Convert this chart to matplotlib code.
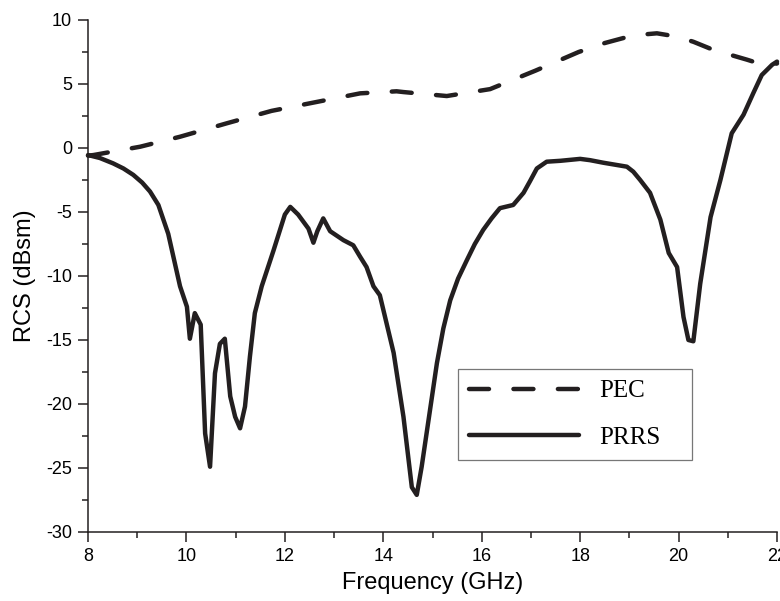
import matplotlib
matplotlib.use("Agg")
import matplotlib.pyplot as plt
from matplotlib.ticker import MultipleLocator

# PEC reference (dashed)
pec_freq = [8.0, 8.11, 9.06, 9.87, 10.82, 11.73, 12.61, 13.53, 14.27, 14.41, 15.29,
            16.17, 17.09, 17.97, 18.5, 19.08, 19.56, 19.97, 20.3, 20.71, 21.39, 21.72, 22.0]
pec_rcs = [-0.6, -0.55, 0.1, 0.88, 1.93, 2.9, 3.57, 4.27, 4.43, 4.37, 4.06,
           4.6, 6.04, 7.5, 8.2, 8.8, 8.96, 8.7, 8.3, 7.66, 6.9, 6.5, 6.6]

# PRRS (solid)
prrs_freq = [8.0, 8.24, 8.51, 8.72, 8.92, 9.1, 9.26, 9.43, 9.63, 9.87, 10.01, 10.07,
             10.17, 10.29, 10.38, 10.48, 10.58, 10.68, 10.78, 10.89, 10.99, 11.09,
             11.19, 11.29, 11.39, 11.53, 11.77, 12.0, 12.11, 12.27, 12.48, 12.58,
             12.66, 12.78, 12.92, 13.19, 13.39, 13.53, 13.66, 13.80, 13.93, 14.21,
             14.41, 14.58, 14.68, 14.78, 15.09, 15.22, 15.36, 15.52, 15.70, 15.86,
             16.03, 16.2, 16.37, 16.64, 16.85, 16.98, 17.12, 17.32, 17.6, 18.0,
             18.2, 18.47, 18.95, 19.08, 19.22, 19.42, 19.63, 19.80, 19.97, 20.10,
             20.20, 20.30, 20.44, 20.65, 20.85, 21.08, 21.32, 21.52, 21.69, 21.90, 22.0]
prrs_rcs = [-0.55, -0.78, -1.2, -1.6, -2.1, -2.7, -3.4, -4.45, -6.7, -10.8, -12.4, -14.9,
            -12.9, -13.8, -22.3, -24.9, -17.6, -15.3, -14.9, -19.4, -21.0, -21.9,
            -20.2, -16.3, -12.9, -10.8, -8.0, -5.2, -4.6, -5.2, -6.3, -7.4,
            -6.5, -5.5, -6.5, -7.2, -7.6, -8.5, -9.3, -10.8, -11.5, -16.0,
            -21.0, -26.5, -27.1, -24.9, -16.8, -14.1, -11.9, -10.2, -8.75, -7.5,
            -6.4, -5.5, -4.7, -4.45, -3.5, -2.6, -1.6, -1.07, -1.0, -0.85,
            -0.95, -1.15, -1.46, -1.85, -2.5, -3.5, -5.6, -8.2, -9.3, -13.2,
            -15.0, -15.1, -10.6, -5.4, -2.5, 1.15, 2.6, 4.3, 5.7, 6.5, 6.75]

x_ticks = [8, 10, 12, 14, 16, 18, 20, 22]
y_ticks = [-30, -25, -20, -15, -10, -5, 0, 5, 10]

sans = ['Liberation Sans Narrow', 'Liberation Sans', 'DejaVu Sans']
serif = ['Liberation Serif', 'DejaVu Serif']
ink = '#231f20'

fig = plt.figure(figsize=(7.8, 6.01), dpi=100)
ax = fig.add_axes([88 / 780, 1 - 532 / 601, (777 - 88) / 780, (532 - 20) / 601])

ax.plot(pec_freq, pec_rcs, color=ink, lw=3.2, linestyle=(0, (4.5, 5.5)),
        dash_capstyle='round', label='PEC', clip_on=False)
ax.plot(prrs_freq, prrs_rcs, color=ink, lw=3.2, solid_capstyle='round',
        solid_joinstyle='round', label='PRRS', clip_on=False)

ax.set_xlim(8, 22)
ax.set_ylim(-30, 10)
ax.set_xticks(x_ticks)
ax.set_yticks(y_ticks)
ax.set_xticklabels([str(t) for t in x_ticks], family=sans, fontsize=13)
ax.set_yticklabels([str(t) for t in y_ticks], family=sans, fontsize=13)
ax.xaxis.set_minor_locator(MultipleLocator(1))
ax.yaxis.set_minor_locator(MultipleLocator(2.5))
ax.tick_params(which='major', direction='out', length=7.5, width=1.1, color=ink, pad=4)
ax.tick_params(which='minor', direction='out', length=4, width=1.1, color=ink)
for s in ['top', 'right']:
    ax.spines[s].set_visible(False)
for s in ['left', 'bottom']:
    ax.spines[s].set_linewidth(1.1)
    ax.spines[s].set_color(ink)

ax.set_xlabel('Frequency (GHz)', family=sans, fontsize=17, labelpad=5)
ax.set_ylabel('RCS (dBsm)', family=sans, fontsize=17, labelpad=7)

leg = ax.legend(loc='lower left', bbox_to_anchor=(0.537, 0.141, 0.34, 0.179),
                mode='expand', prop={'family': serif, 'size': 18},
                frameon=True, fancybox=False, edgecolor='#555555',
                handlelength=4.4, handletextpad=0.8, labelspacing=0.95,
                borderaxespad=0, borderpad=0.45)
leg.get_frame().set_linewidth(0.9)

fig.savefig('out.png', dpi=100)
